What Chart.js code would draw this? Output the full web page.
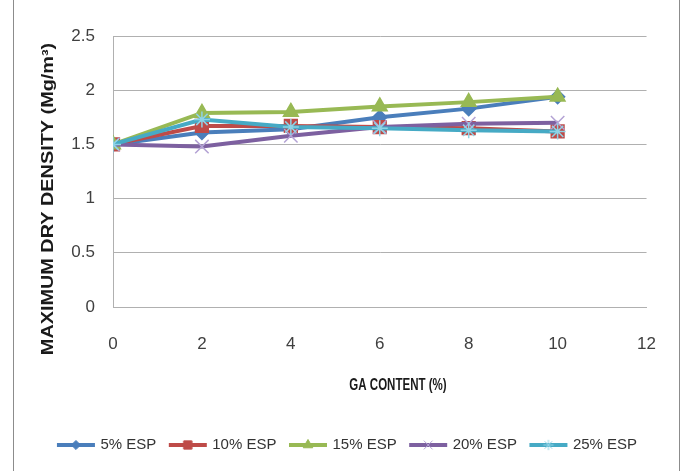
<!DOCTYPE html>
<html lang="en">
<head>
  <meta charset="UTF-8" />
  <title>Maximum dry density</title>
  <style>
    * { margin: 0; padding: 0; }
    body { background: #fff; }
    .chartBox { width: 683px; height: 471px; }
  </style>
</head>
<body>
  <div class="chartBox">
    <canvas id="myChart" width="683" height="471"></canvas>
  </div>
  <script src="https://cdn.jsdelivr.net/npm/chart.js@4"></script>
  <script>
    const gaContent = [0, 2, 4, 6, 8, 10];
    const esp5 = [1.50, 1.61, 1.64, 1.75, 1.83, 1.94];
    const esp10 = [1.50, 1.67, 1.67, 1.66, 1.65, 1.62];
    const esp15 = [1.50, 1.79, 1.80, 1.85, 1.89, 1.94];
    const esp20 = [1.50, 1.48, 1.58, 1.66, 1.69, 1.70];
    const esp25 = [1.50, 1.73, 1.66, 1.65, 1.63, 1.62];
    const yTicks = [0, 0.5, 1, 1.5, 2, 2.5];
    const xTitle = 'GA CONTENT (%)';
    const yTitle = 'MAXIMUM DRY DENSITY (Mg/m³)';

    const fontFam = '"Liberation Sans", Arial, sans-serif';
    Chart.defaults.font.family = fontFam;
    Chart.defaults.color = '#404040';

    const series = [
      { label: '5% ESP', data: esp5, color: '#4a7ebb', marker: '#4a7ebb', style: 'rectRot', r: 7 },
      { label: '10% ESP', data: esp10, color: '#be4b48', marker: '#be4b48', style: 'rect', r: 9 },
      { label: '15% ESP', data: esp15, color: '#98b954', marker: '#98b954', style: 'triangle', r: 8.5 },
      { label: '20% ESP', data: esp20, color: '#7d60a0', marker: '#b3a2d4', style: 'crossRot', r: 9.5 },
      { label: '25% ESP', data: esp25, color: '#46aac5', marker: '#8fd3e6', style: 'star', r: 8 }
    ];

    // little "line + marker" pictures for the legend
    let legendIcon = (s) => {
      const c = document.createElement('canvas');
      c.width = 40;
      c.height = 14;
      const g = c.getContext('2d');
      g.strokeStyle = s.color;
      g.lineWidth = 4;
      g.beginPath();
      g.moveTo(1, 7);
      g.lineTo(39, 7);
      g.stroke();
      g.fillStyle = s.marker;
      g.strokeStyle = s.marker;
      g.lineWidth = 1;
      Chart.helpers.drawPoint(g, { pointStyle: s.style, radius: s.r * 0.65, borderWidth: 1 }, 20, 7);
      return c;
    };

    // frame + axis titles (the original's titles are narrow/tall and sit off-centre)
    const frame = {
      id: 'frame',
      afterDraw(chart) {
        const c = chart.ctx;
        c.save();
        c.strokeStyle = '#8c8c8c';
        c.lineWidth = 1;
        c.beginPath();
        c.moveTo(13.5, 0);
        c.lineTo(13.5, 471);
        c.moveTo(679.5, 0);
        c.lineTo(679.5, 471);
        c.stroke();

        c.fillStyle = '#1a1a1a';
        c.textAlign = 'center';
        c.textBaseline = 'middle';
        c.font = 'bold 16px ' + fontFam;

        c.save();
        c.translate(398, 386);
        c.scale(0.72, 1);
        c.fillText(xTitle, 0, 0);
        c.restore();

        c.save();
        c.translate(49, 199);
        c.rotate(-Math.PI / 2);
        c.scale(1.24, 1);
        c.fillText(yTitle, 0, 0);
        c.restore();

        c.restore();
      }
    };

    const data = {
      datasets: series.map((s, i) => ({
        label: s.label,
        data: gaContent.map((x, j) => ({ x: x, y: s.data[j] })),
        borderColor: s.color,
        backgroundColor: s.marker,
        pointBorderColor: s.marker,
        pointBackgroundColor: s.marker,
        pointStyle: s.style,
        pointRadius: s.r,
        pointBorderWidth: 1.5,
        borderWidth: 4,
        tension: 0,
        order: series.length - i
      }))
    };

    const options = {
      responsive: false,
      animation: false,
      layout: { padding: { left: 13, right: 0, top: 36, bottom: 8.5 } },
      plugins: {
        tooltip: { enabled: false },
        legend: {
          position: 'bottom',
          labels: {
            usePointStyle: true,
            pointStyleWidth: 34,
            padding: 14.5,
            color: '#333',
            font: { size: 15 },
            generateLabels: (chart) => series.map((s, i) => ({
              text: s.label,
              pointStyle: legendIcon(s),
              datasetIndex: i,
              fontColor: '#333',
              lineWidth: 0,
              hidden: false
            }))
          }
        }
      },
      scales: {
        x: {
          type: 'linear',
          min: 0,
          max: 12,
          ticks: { stepSize: 2, padding: 27, font: { size: 17 }, color: '#404040' },
          grid: { display: false, drawTicks: false },
          border: { color: '#b0b0b0' },
          afterFit: (scale) => { scale.height = 116; }
        },
        y: {
          min: 0,
          max: 2.5,
          afterBuildTicks: (scale) => { scale.ticks = yTicks.map(v => ({ value: v })); },
          ticks: { padding: 18, font: { size: 17 }, color: '#404040', callback: (v) => String(v) },
          grid: { color: '#b0b0b0', drawTicks: false },
          border: { color: '#b0b0b0' },
          afterFit: (scale) => { scale.width = 100; }
        },
        // empty right-hand strip so the plot ends where the original's does
        yRight: {
          position: 'right',
          min: 0,
          max: 2.5,
          ticks: { display: false },
          grid: { drawOnChartArea: false, drawTicks: false },
          border: { display: false },
          afterFit: (scale) => { scale.width = 28; }
        }
      }
    };

    const myChart = new Chart(document.getElementById('myChart'), {
      type: 'line',
      data: data,
      options: options,
      plugins: [frame]
    });
  </script>
</body>
</html>
